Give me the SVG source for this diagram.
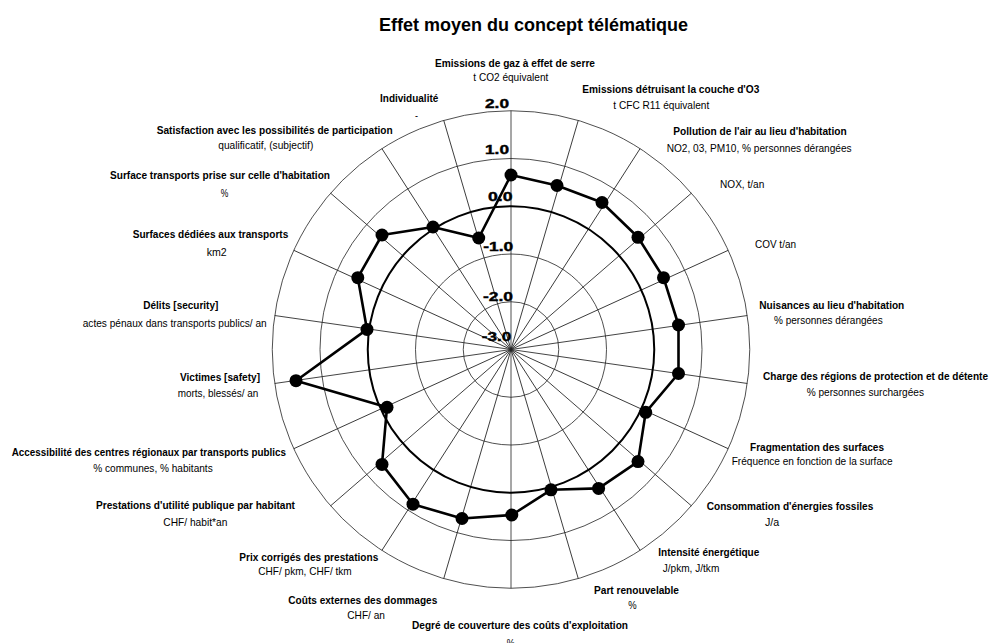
<svg xmlns="http://www.w3.org/2000/svg" width="990" height="643" viewBox="0 0 990 643">
<style>
text{font-family:"Liberation Sans",Arial,sans-serif;fill:#000}
.t{font-size:18px;font-weight:bold}
.b{font-size:11.5px;font-weight:bold}
.u{font-size:11.5px}
.tick{font-size:13px;font-weight:bold;stroke:#000;stroke-width:0.4}
.ring{fill:none;stroke:#222;stroke-width:0.8}
.spoke{stroke:#222;stroke-width:0.8}
.zero{fill:none;stroke:#000;stroke-width:2}
.series{fill:none;stroke:#000;stroke-width:2.6;stroke-linejoin:round}
.pt{fill:#000}
</style>
<rect width="990" height="643" fill="#fff"/>
<text class="t" x="379" y="31">Effet moyen du concept télématique</text>
<g id="grid">
<circle class="ring" cx="511" cy="349.5" r="47.75"/>
<circle class="ring" cx="511" cy="349.5" r="95.5"/>
<circle class="ring" cx="511" cy="349.5" r="191"/>
<circle class="ring" cx="511" cy="349.5" r="238.75"/>
<g class="spoke">
<line x1="511" y1="349.5" x2="511" y2="110.75" transform="rotate(0 511 349.5)"/>
<line x1="511" y1="349.5" x2="511" y2="110.75" transform="rotate(16.3636 511 349.5)"/>
<line x1="511" y1="349.5" x2="511" y2="110.75" transform="rotate(32.7273 511 349.5)"/>
<line x1="511" y1="349.5" x2="511" y2="110.75" transform="rotate(49.0909 511 349.5)"/>
<line x1="511" y1="349.5" x2="511" y2="110.75" transform="rotate(65.4545 511 349.5)"/>
<line x1="511" y1="349.5" x2="511" y2="110.75" transform="rotate(81.8182 511 349.5)"/>
<line x1="511" y1="349.5" x2="511" y2="110.75" transform="rotate(98.1818 511 349.5)"/>
<line x1="511" y1="349.5" x2="511" y2="110.75" transform="rotate(114.5455 511 349.5)"/>
<line x1="511" y1="349.5" x2="511" y2="110.75" transform="rotate(130.9091 511 349.5)"/>
<line x1="511" y1="349.5" x2="511" y2="110.75" transform="rotate(147.2727 511 349.5)"/>
<line x1="511" y1="349.5" x2="511" y2="110.75" transform="rotate(163.6364 511 349.5)"/>
<line x1="511" y1="349.5" x2="511" y2="110.75" transform="rotate(180 511 349.5)"/>
<line x1="511" y1="349.5" x2="511" y2="110.75" transform="rotate(196.3636 511 349.5)"/>
<line x1="511" y1="349.5" x2="511" y2="110.75" transform="rotate(212.7273 511 349.5)"/>
<line x1="511" y1="349.5" x2="511" y2="110.75" transform="rotate(229.0909 511 349.5)"/>
<line x1="511" y1="349.5" x2="511" y2="110.75" transform="rotate(245.4545 511 349.5)"/>
<line x1="511" y1="349.5" x2="511" y2="110.75" transform="rotate(261.8182 511 349.5)"/>
<line x1="511" y1="349.5" x2="511" y2="110.75" transform="rotate(278.1818 511 349.5)"/>
<line x1="511" y1="349.5" x2="511" y2="110.75" transform="rotate(294.5455 511 349.5)"/>
<line x1="511" y1="349.5" x2="511" y2="110.75" transform="rotate(310.9091 511 349.5)"/>
<line x1="511" y1="349.5" x2="511" y2="110.75" transform="rotate(327.2727 511 349.5)"/>
<line x1="511" y1="349.5" x2="511" y2="110.75" transform="rotate(343.6364 511 349.5)"/>
</g>
<circle class="zero" cx="511" cy="349.5" r="143.25"/>
</g>
<g id="ticks">
<text class="tick" x="485" y="108.3" textLength="24" lengthAdjust="spacingAndGlyphs">2.0</text>
<text class="tick" x="485" y="154.3" textLength="24" lengthAdjust="spacingAndGlyphs">1.0</text>
<text class="tick" x="488" y="200.5" textLength="24.5" lengthAdjust="spacingAndGlyphs">0.0</text>
<text class="tick" x="483.3" y="250.7" textLength="30" lengthAdjust="spacingAndGlyphs">-1.0</text>
<text class="tick" x="483" y="301" textLength="30" lengthAdjust="spacingAndGlyphs">-2.0</text>
<text class="tick" x="481.7" y="340.5" textLength="29.5" lengthAdjust="spacingAndGlyphs">-3.0</text>
</g>
<g id="connectors">
<polygon class="series" points="511,175 557,185.5 602,202.5 638,237.3 663.5,277.7 678.5,325 678.5,373.5 645.7,412.3 638,461.6 598.6,488.4 551,489.8 511.8,515 462,518.5 413,504.2 382,464.4 387,407.3 296,380.7 367,329.4 357.8,277.7 382,235 433,227 478.7,238"/>
</g>
<g id="points">
<circle class="pt" cx="511" cy="175" r="6.5"/>
<circle class="pt" cx="557" cy="185.5" r="6.5"/>
<circle class="pt" cx="602" cy="202.5" r="6.5"/>
<circle class="pt" cx="638" cy="237.3" r="6.5"/>
<circle class="pt" cx="663.5" cy="277.7" r="6.5"/>
<circle class="pt" cx="678.5" cy="325" r="6.5"/>
<circle class="pt" cx="678.5" cy="373.5" r="6.5"/>
<circle class="pt" cx="645.7" cy="412.3" r="6.5"/>
<circle class="pt" cx="638" cy="461.6" r="6.5"/>
<circle class="pt" cx="598.6" cy="488.4" r="6.5"/>
<circle class="pt" cx="551" cy="489.8" r="6.5"/>
<circle class="pt" cx="511.8" cy="515" r="6.5"/>
<circle class="pt" cx="462" cy="518.5" r="6.5"/>
<circle class="pt" cx="413" cy="504.2" r="6.5"/>
<circle class="pt" cx="382" cy="464.4" r="6.5"/>
<circle class="pt" cx="387" cy="407.3" r="6.5"/>
<circle class="pt" cx="296" cy="380.7" r="6.5"/>
<circle class="pt" cx="367" cy="329.4" r="6.5"/>
<circle class="pt" cx="357.8" cy="277.7" r="6.5"/>
<circle class="pt" cx="382" cy="235" r="6.5"/>
<circle class="pt" cx="433" cy="227" r="6.5"/>
<circle class="pt" cx="478.7" cy="238" r="6.5"/>
</g>
<g id="ax0"><text class="b" x="435" y="66.7" textLength="160" lengthAdjust="spacingAndGlyphs">Emissions de gaz à effet de serre</text><text class="u" x="473.3" y="80.5" textLength="75" lengthAdjust="spacingAndGlyphs">t CO2 équivalent</text></g>
<g id="ax1"><text class="b" x="582.3" y="92.5" textLength="177" lengthAdjust="spacingAndGlyphs">Emissions détruisant la couche d'O3</text><text class="u" x="613.3" y="108.5" textLength="96" lengthAdjust="spacingAndGlyphs">t CFC R11 équivalent</text></g>
<g id="ax2"><text class="b" x="673.3" y="135" textLength="173.4" lengthAdjust="spacingAndGlyphs">Pollution de l'air au lieu d'habitation</text><text class="u" x="666.7" y="151.7" textLength="185" lengthAdjust="spacingAndGlyphs">NO2, 03, PM10, % personnes dérangées</text></g>
<g id="ax3"><text class="u" x="720" y="188.3" textLength="44.3" lengthAdjust="spacingAndGlyphs">NOX, t/an</text></g>
<g id="ax4"><text class="u" x="755" y="247.7" textLength="41" lengthAdjust="spacingAndGlyphs">COV t/an</text></g>
<g id="ax5"><text class="b" x="759.3" y="309.3" textLength="145" lengthAdjust="spacingAndGlyphs">Nuisances au lieu d'habitation</text><text class="u" x="774" y="324" textLength="108.7" lengthAdjust="spacingAndGlyphs">% personnes dérangées</text></g>
<g id="ax6"><text class="b" x="763" y="380" textLength="225" lengthAdjust="spacingAndGlyphs">Charge des régions de protection et de détente</text><text class="u" x="806.7" y="396" textLength="117.3" lengthAdjust="spacingAndGlyphs">% personnes surchargées</text></g>
<g id="ax7"><text class="b" x="750" y="450.5" textLength="134" lengthAdjust="spacingAndGlyphs">Fragmentation des surfaces</text><text class="u" x="731.7" y="465" textLength="161" lengthAdjust="spacingAndGlyphs">Fréquence en fonction de la surface</text></g>
<g id="ax8"><text class="b" x="706.7" y="510" textLength="166.6" lengthAdjust="spacingAndGlyphs">Consommation d'énergies fossiles</text><text class="u" x="765" y="526" textLength="14.3" lengthAdjust="spacingAndGlyphs">J/a</text></g>
<g id="ax9"><text class="b" x="658.3" y="556" textLength="101" lengthAdjust="spacingAndGlyphs">Intensité énergétique</text><text class="u" x="662.7" y="571.7" textLength="56.6" lengthAdjust="spacingAndGlyphs">J/pkm, J/tkm</text></g>
<g id="ax10"><text class="b" x="594" y="594" textLength="85" lengthAdjust="spacingAndGlyphs">Part renouvelable</text><text class="u" x="628.3" y="609.3" textLength="8.4" lengthAdjust="spacingAndGlyphs">%</text></g>
<g id="ax11"><text class="b" x="412" y="629" textLength="216" lengthAdjust="spacingAndGlyphs">Degré de couverture des coûts d'exploitation</text><text class="u" x="506.7" y="647" textLength="8" lengthAdjust="spacingAndGlyphs">%</text></g>
<g id="ax12"><text class="b" x="288.3" y="604" textLength="149" lengthAdjust="spacingAndGlyphs">Coûts externes des dommages</text><text class="u" x="347.3" y="619.3" textLength="37.7" lengthAdjust="spacingAndGlyphs">CHF/ an</text></g>
<g id="ax13"><text class="b" x="239.3" y="560.7" textLength="139" lengthAdjust="spacingAndGlyphs">Prix corrigés des prestations</text><text class="u" x="258.3" y="575" textLength="93.4" lengthAdjust="spacingAndGlyphs">CHF/ pkm, CHF/ tkm</text></g>
<g id="ax14"><text class="b" x="96" y="509.3" textLength="199" lengthAdjust="spacingAndGlyphs">Prestations d'utilité publique par habitant</text><text class="u" x="163.3" y="526" textLength="64" lengthAdjust="spacingAndGlyphs">CHF/ habit*an</text></g>
<g id="ax15"><text class="b" x="11.7" y="456" textLength="274.3" lengthAdjust="spacingAndGlyphs">Accessibilité des centres régionaux par transports publics</text><text class="u" x="93.3" y="471.7" textLength="119.4" lengthAdjust="spacingAndGlyphs">% communes, % habitants</text></g>
<g id="ax16"><text class="b" x="180" y="381" textLength="80" lengthAdjust="spacingAndGlyphs">Victimes [safety]</text><text class="u" x="177.7" y="396.7" textLength="80.6" lengthAdjust="spacingAndGlyphs">morts, blessés/ an</text></g>
<g id="ax17"><text class="b" x="143.3" y="309.3" textLength="75" lengthAdjust="spacingAndGlyphs">Délits [security]</text><text class="u" x="82.7" y="326.7" textLength="184" lengthAdjust="spacingAndGlyphs">actes pénaux dans transports publics/ an</text></g>
<g id="ax18"><text class="b" x="132.7" y="238.3" textLength="155.6" lengthAdjust="spacingAndGlyphs">Surfaces dédiées aux transports</text><text class="u" x="206.7" y="256" textLength="20" lengthAdjust="spacingAndGlyphs">km2</text></g>
<g id="ax19"><text class="b" x="110" y="179.3" textLength="220" lengthAdjust="spacingAndGlyphs">Surface transports prise sur celle d'habitation</text><text class="u" x="220.7" y="196.7" textLength="7.6" lengthAdjust="spacingAndGlyphs">%</text></g>
<g id="ax20"><text class="b" x="156.7" y="134" textLength="236" lengthAdjust="spacingAndGlyphs">Satisfaction avec les possibilités de participation</text><text class="u" x="218.3" y="149.3" textLength="95" lengthAdjust="spacingAndGlyphs">qualificatif, (subjectif)</text></g>
<g id="ax21"><text class="b" x="380" y="102" textLength="58.3" lengthAdjust="spacingAndGlyphs">Individualité</text><text class="u" x="415" y="119" textLength="3" lengthAdjust="spacingAndGlyphs">-</text></g>
</svg>
